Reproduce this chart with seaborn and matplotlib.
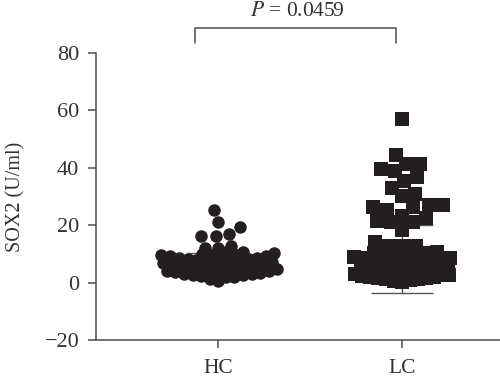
import numpy as np
import pandas as pd
import seaborn as sns
import matplotlib.pyplot as plt

# values (SOX2, U/ml)
groups = ['HC', 'LC']

# scattered high values
hc_high = [25.3, 21.2, 19.2, 17.0, 16.4, 16.3, 12.6, 12.2, 12.0]
lc_high = [
    57.1, 44.6, 41.4, 41.4, 39.7, 39.0, 36.9, 35.5, 33.1, 31.0, 30.0,
    27.1, 27.1, 26.5, 26.2, 25.4, 23.3, 22.6, 21.6, 21.0, 21.0, 18.4,
    14.0, 12.6, 12.6, 12.6,
]

# dense band near the bottom of each group
hc_band = [
    10.7, 10.5, 10.3, 10.1, 9.9, 9.7, 9.5, 9.3, 9.1, 8.9, 8.7, 8.5,
    8.3, 8.1, 7.9, 7.7, 7.5, 7.3, 7.1, 6.9, 6.7, 6.5, 6.3, 6.1, 5.9,
    5.7, 5.5, 5.3, 5.1, 4.9, 4.7, 4.5, 4.3, 4.1, 3.9, 3.7, 3.5, 3.3,
    3.1, 2.9, 2.7, 2.5, 2.3, 2.1, 1.8, 1.4, 0.5,
]
lc_band = [
    10.6, 10.4, 10.2, 10.0, 9.8, 9.6, 9.4, 9.2, 9.0, 8.8, 8.6, 8.4,
    8.2, 8.0, 7.8, 7.6, 7.4, 7.2, 7.0, 6.8, 6.6, 6.4,
    5.3, 5.1, 4.9, 4.7, 4.5, 4.3, 4.1, 3.9, 3.7, 3.5, 3.3, 3.1, 2.9,
    2.7, 2.5, 2.3, 2.1, 1.9, 1.7, 1.5, 1.3, 1.1, 0.9, 0.6, 0.3,
]

# mean and SD bars as drawn in the figure
group_means = [6.8, 8.2]
group_sds = [3.6, 11.7]

p_text = r'$\mathit{P}$ = 0.0459'


def to_frame(name, values):
    return pd.DataFrame({'group': [name] * len(values), 'value': values})


sns.set_style('ticks')
plt.rcParams['font.family'] = ['Liberation Serif', 'DejaVu Serif']
plt.rcParams['mathtext.fontset'] = 'stix'

fig = plt.figure(figsize=(5, 3.81), dpi=100)
ax = fig.add_axes([0.192, 0.1076, 0.808, 0.7534])

dark = '#231f20'
axis_col = '#4d4d4d'

# mean +/- SD behind the dots
ax.errorbar([0, 1], group_means, yerr=group_sds, fmt='none',
            ecolor='#555555', elinewidth=1.0, capsize=22, capthick=1.0, zorder=1)
ax.hlines(group_means, [-0.17, 0.83], [0.17, 1.17], color='#555555', lw=1.0, zorder=1)

ax.set_ylim(-20, 80)
ax.set_xlim(-0.663, 1.533)

# dense bands: swarm laid out with small dots, then drawn bigger so they merge
n0 = len(ax.collections)
sns.swarmplot(data=to_frame('HC', hc_band), x='group', y='value', order=groups,
              marker='o', size=6, color=dark, linewidth=0, ax=ax, zorder=3,
              warn_thresh=1)
sns.swarmplot(data=to_frame('LC', lc_band), x='group', y='value', order=groups,
              marker='s', size=5.5, color=dark, linewidth=0, ax=ax, zorder=3,
              warn_thresh=1)
ax.set_ylim(-20, 80)
ax.set_xlim(-0.663, 1.533)
fig.canvas.draw()
band_colls = [c for c in ax.collections[n0:] if 'draw' in vars(c)]
for c, sz in zip(band_colls, [9, 9.5]):
    del c.draw  # keep the computed positions
    c.set_sizes([sz ** 2])

# scattered values: ordinary swarm at full dot size
sns.swarmplot(data=to_frame('HC', hc_high), x='group', y='value', order=groups,
              marker='o', size=9, color=dark, linewidth=0, ax=ax, zorder=3)
sns.swarmplot(data=to_frame('LC', lc_high), x='group', y='value', order=groups,
              marker='s', size=9.5, color=dark, linewidth=0, ax=ax, zorder=3)

ax.set_ylim(-20, 80)
ax.set_xlim(-0.663, 1.533)
ax.set_yticks([-20, 0, 20, 40, 60, 80])
ax.set_yticklabels(['\u221220', '0', '20', '40', '60', '80'])
ax.set_xlabel('')
ax.set_ylabel('SOX2 (U/ml)', fontsize=14.5, color='#333333', labelpad=14)
ax.tick_params(axis='both', labelsize=16, colors=axis_col, labelcolor='#333333',
               length=6, width=1.1)
ax.tick_params(axis='y', pad=6)
ax.tick_params(axis='x', labelsize=15.5, pad=8)
for side in ['left', 'bottom']:
    ax.spines[side].set_color(axis_col)
    ax.spines[side].set_linewidth(1.1)
sns.despine(ax=ax)

# significance bracket
ax.plot([-0.125, -0.125, 0.97, 0.97], [83.5, 88.7, 88.7, 83.5],
        color=axis_col, lw=1.1, clip_on=False)
ax.text(0.43, 94.3, p_text, ha='center', va='center', fontsize=15.5,
        color='#333333', clip_on=False)

fig.savefig('out.png', dpi=100)
